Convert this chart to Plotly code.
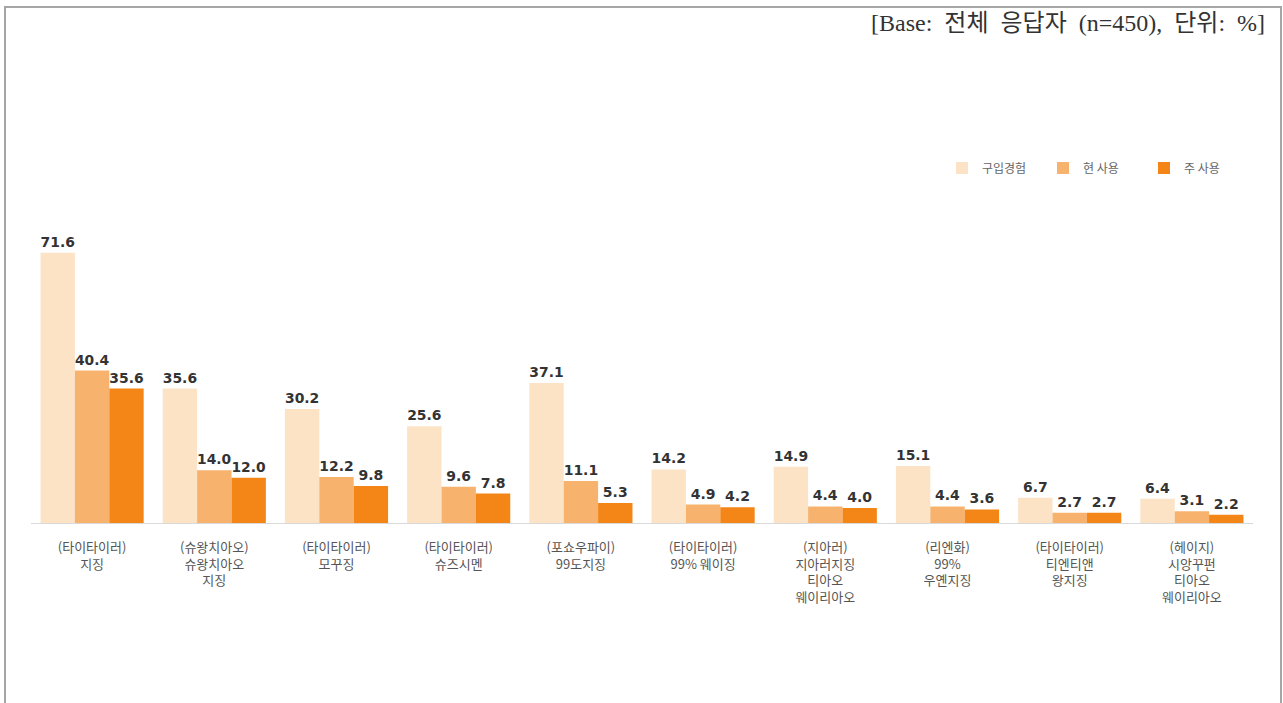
import plotly.graph_objects as go

categories = [
    "(타이타이러)<br>지징",
    "(슈왕치아오)<br>슈왕치아오<br>지징",
    "(타이타이러)<br>모꾸징",
    "(타이타이러)<br>슈즈시멘",
    "(포쇼우파이)<br>99도지징",
    "(타이타이러)<br>99% 웨이징",
    "(지아러)<br>지아러지징<br>티아오<br>웨이리아오",
    "(리엔화)<br>99%<br>우옌지징",
    "(타이타이러)<br>티엔티앤<br>왕지징",
    "(헤이지)<br>시앙꾸펀<br>티아오<br>웨이리아오",
]
series_names = ["구입경험", "현 사용", "주 사용"]
purchased = [71.6, 35.6, 30.2, 25.6, 37.1, 14.2, 14.9, 15.1, 6.7, 6.4]
current_use = [40.4, 14.0, 12.2, 9.6, 11.1, 4.9, 4.4, 4.4, 2.7, 3.1]
main_use = [35.6, 12.0, 9.8, 7.8, 5.3, 4.2, 4.0, 3.6, 2.7, 2.2]
gap = "\u00a0" * 2
note_text = gap.join(["[Base:", "전체", "응답자", "(n=450),", "단위:", "%]"])

colors = ["#FCE3C6", "#F7B26E", "#F38616"]

W, H = 1283, 703
ml, mr, mt, mb = 31, 30, 221, 180
pw, ph = W - ml - mr, H - mt - mb


def px_x(x):
    return (x - ml) / pw


def px_y(y):
    return (H - mb - y) / ph


fig = go.Figure()
for name, vals, col in zip(series_names, [purchased, current_use, main_use], colors):
    fig.add_trace(go.Bar(
        name=name,
        x=categories,
        y=vals,
        marker=dict(color=col, line=dict(width=0)),
        text=[f"{v:.1f}" for v in vals],
        textposition="outside",
        textfont=dict(family="DejaVu Sans, sans-serif", size=14, color="#333333", weight="bold"),
        cliponaxis=False,
    ))

fig.update_layout(
    width=W, height=H,
    margin=dict(l=ml, r=mr, t=mt, b=mb, autoexpand=False),
    paper_bgcolor="white",
    plot_bgcolor="white",
    barmode="group",
    bargap=0.156,
    bargroupgap=0,
    showlegend=True,
    legend=dict(
        orientation="h",
        x=px_x(1245), xanchor="right",
        y=px_y(168), yanchor="middle",
        font=dict(family="Noto Sans CJK KR", size=12, color="#666666"),
        itemwidth=30,
        entrywidth=56,
        entrywidthmode="pixels",
        traceorder="normal",
        bgcolor="rgba(0,0,0,0)",
    ),
    xaxis=dict(
        showgrid=False,
        showline=True,
        linecolor="#D9D9D9",
        linewidth=1,
        ticks="",
        ticklabelstandoff=12,
        tickfont=dict(family="Noto Sans CJK KR", size=13, color="#555555"),
    ),
    yaxis=dict(
        range=[0, 80],
        visible=False,
        showgrid=False,
        zeroline=False,
    ),
    font=dict(family="Noto Sans CJK KR"),
)

# note at the top right
fig.add_annotation(
    text=note_text,
    xref="paper", yref="paper",
    x=px_x(1267), y=px_y(23),
    xanchor="right", yanchor="middle",
    showarrow=False,
    font=dict(family="Liberation Serif, Noto Sans CJK KR", size=24, color="#333333"),
)

# frame around the figure
fig.add_shape(
    type="path",
    xref="paper", yref="paper",
    path=f"M {px_x(5)} {px_y(710)} L {px_x(5)} {px_y(7)} L {px_x(1281)} {px_y(7)} L {px_x(1281)} {px_y(710)}",
    line=dict(color="#A6A6A6", width=2),
    layer="above",
)

fig.write_html("out.html")
